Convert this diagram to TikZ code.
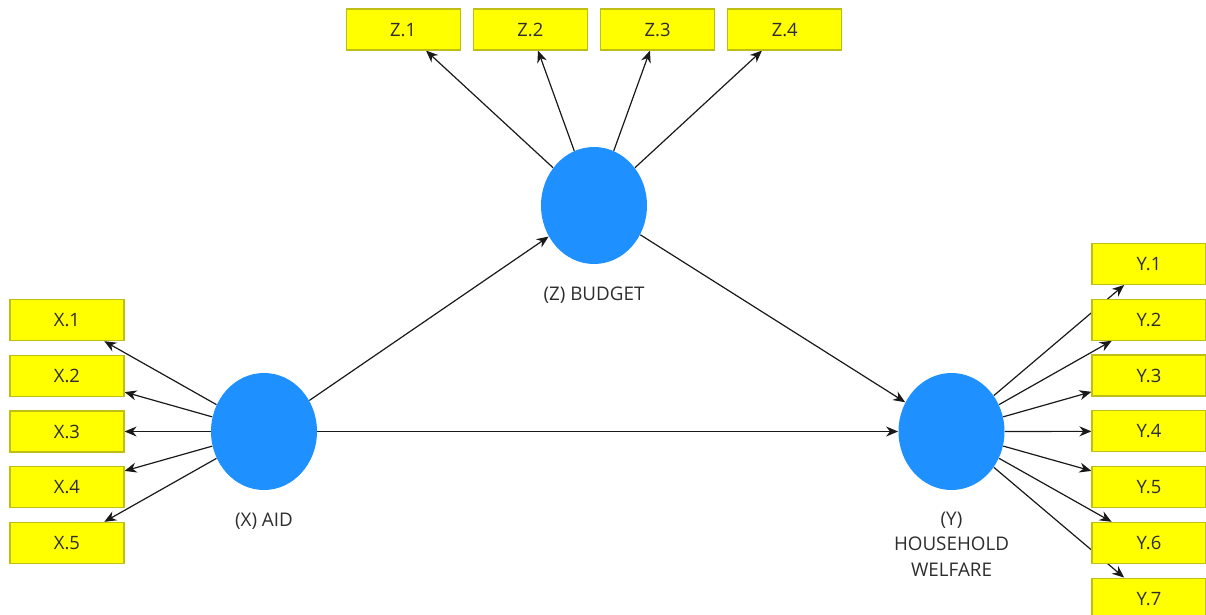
\documentclass[tikz,border=0pt]{standalone}
\usepackage{fontspec}
\setmainfont{Open Sans}
\usetikzlibrary{matrix,positioning,shapes.geometric,arrows.meta,backgrounds}
\definecolor{boxfill}{RGB}{255,255,0}
\definecolor{boxline}{RGB}{190,190,20}
\definecolor{lvblue}{RGB}{30,144,255}
\definecolor{labeltext}{RGB}{45,45,45}
\tikzset{
  indicator/.style={
    % The shape:
    rectangle,
    % The size:
    minimum width=57pt,
    minimum height=20.5pt,
    inner sep=0pt,
    % The border:
    draw=boxline,
    line width=0.6pt,
    % The filling:
    fill=boxfill,
    text=labeltext,
    font=\fontsize{9.2}{10.5}\selectfont},
  latent/.style={
    % The shape:
    ellipse,
    minimum width=53pt,
    minimum height=58.5pt,
    inner sep=0pt,
    % The rest
    draw=none,fill=lvblue},
  caption/.style={
    % The shape:
    rectangle,
    inner sep=0pt,
    % The rest
    align=center,text=labeltext,
    font=\fontsize{9.4}{12.75}\selectfont}
}

\begin{document}
\begin{tikzpicture}[x=0.5pt,y=-0.5pt,>={Stealth[length=6pt,width=5pt]},
                    path/.style={->,line width=0.6pt,draw=black!90},
                    text height=1.5ex,text depth=.25ex]
  \useasboundingbox (0,0) rectangle (1206,615);

  % latent variables
  \node (aid)     [latent] at (264,431.5) {};
  \node (budget)  [latent] at (594,205.5) {};
  \node (welfare) [latent] at (951.5,431.5) {};

  \node (aidlabel)     [caption,below=10pt of aid]     {(X) AID};
  \node (budgetlabel)  [caption,below=10pt of budget]  {(Z) BUDGET};
  \node (welfarelabel) [caption,below=10.5pt of welfare,text height=,text depth=] {(Y)\\HOUSEHOLD\\WELFARE};

  % indicators
  \matrix (xcol) at (67,431.5) [row sep=6.75pt] {
    \node (x1) [indicator] {X.1}; \\
    \node (x2) [indicator] {X.2}; \\
    \node (x3) [indicator] {X.3}; \\
    \node (x4) [indicator] {X.4}; \\
    \node (x5) [indicator] {X.5}; \\
  };
  \matrix (zrow) at (594,29.5) [ampersand replacement=\&,column sep=6pt] {
    \node (z1) [indicator] {Z.1}; \&
    \node (z2) [indicator] {Z.2}; \&
    \node (z3) [indicator] {Z.3}; \&
    \node (z4) [indicator] {Z.4}; \\
  };
  \matrix (ycol) at (1149,431.3) [row sep=6.8pt] {
    \node (y1) [indicator] {Y.1}; \\
    \node (y2) [indicator] {Y.2}; \\
    \node (y3) [indicator] {Y.3}; \\
    \node (y4) [indicator] {Y.4}; \\
    \node (y5) [indicator] {Y.5}; \\
    \node (y6) [indicator] {Y.6}; \\
    \node (y7) [indicator] {Y.7}; \\
  };

  \begin{scope}[on background layer]
    % structural paths
    \draw [path] (aid) -- (budget);
    \draw [path] (aid) -- (welfare);
    \draw [path] (budget) -- (welfare);
    % outer loadings
    \draw [path] (aid) -- (x1);
    \draw [path] (aid) -- (x2);
    \draw [path] (aid) -- (x3);
    \draw [path] (aid) -- (x4);
    \draw [path] (aid) -- (x5);
    \draw [path] (budget) -- (z1);
    \draw [path] (budget) -- (z2);
    \draw [path] (budget) -- (z3);
    \draw [path] (budget) -- (z4);
    \draw [path] (welfare) -- (y1);
    \draw [path] (welfare) -- (y2);
    \draw [path] (welfare) -- (y3);
    \draw [path] (welfare) -- (y4);
    \draw [path] (welfare) -- (y5);
    \draw [path] (welfare) -- (y6);
    \draw [path] (welfare) -- (y7);
  \end{scope}
\end{tikzpicture}
\end{document}
